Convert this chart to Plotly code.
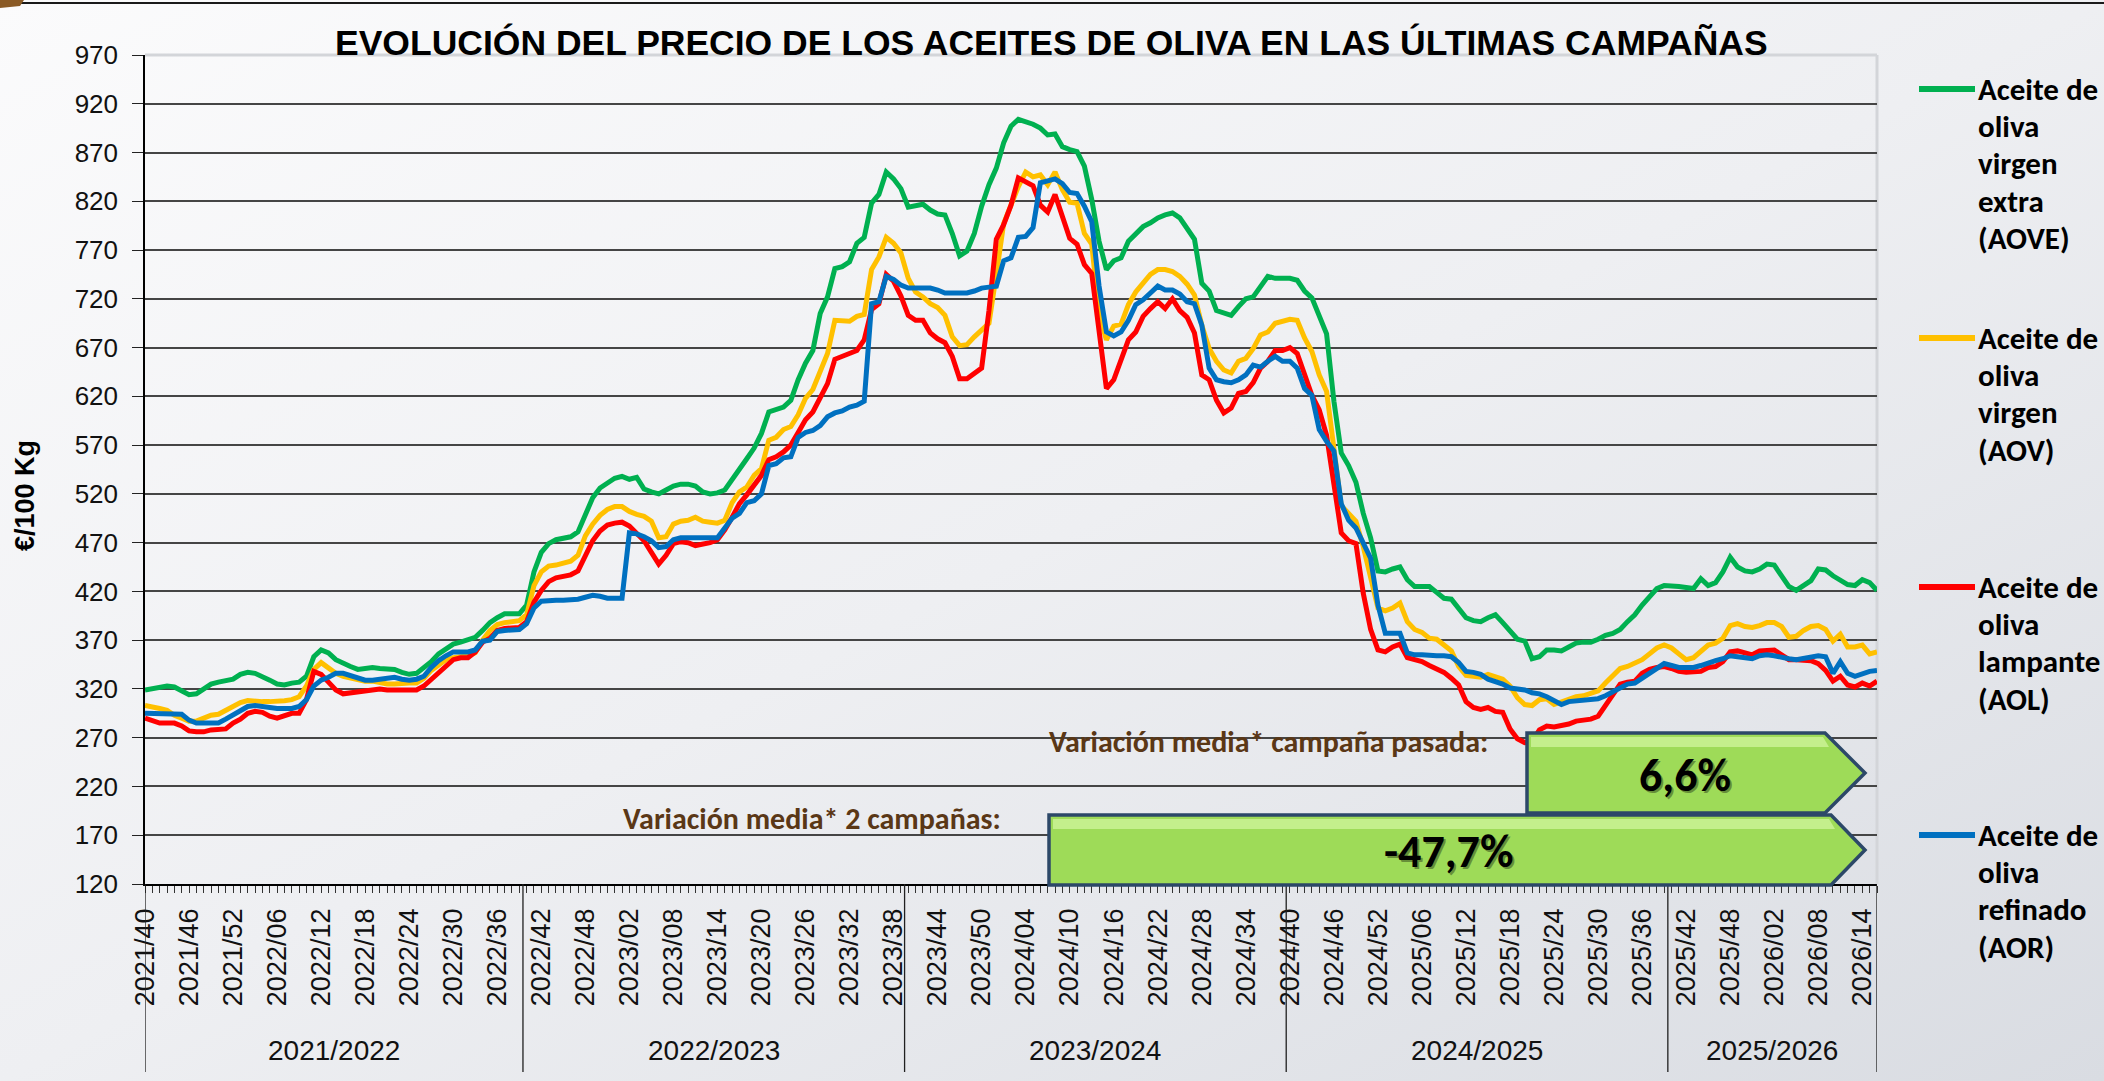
import base64
import plotly.graph_objects as go

# ---------------- data ----------------
TITLE = "EVOLUCIÓN DEL PRECIO DE LOS ACEITES DE OLIVA EN LAS ÚLTIMAS CAMPAÑAS"
Y_TITLE = "€/100 Kg"

CAMPAIGNS = ["2021/2022", "2022/2023", "2023/2024", "2024/2025", "2025/2026"]
CAMPAIGN_WEEKS = [52, 52, 52, 52, 29]

TICK_STEP = 6
TICK_LABELS = [
    "2021/40", "2021/46", "2021/52", "2022/06", "2022/12", "2022/18", "2022/24", "2022/30",
    "2022/36", "2022/42", "2022/48", "2023/02", "2023/08", "2023/14", "2023/20", "2023/26",
    "2023/32", "2023/38", "2023/44", "2023/50", "2024/04", "2024/10", "2024/16", "2024/22",
    "2024/28", "2024/34", "2024/40", "2024/46", "2024/52", "2025/06", "2025/12", "2025/18",
    "2025/24", "2025/30", "2025/36", "2025/42", "2025/48", "2026/02", "2026/08", "2026/14",
]

AOVE = [
    319, 320, 322, 323, 322, 318, 314, 315, 320, 325,
    327, 328, 330, 335, 337, 336, 333, 329, 325, 324,
    326, 327, 333, 353, 360, 357, 350, 346, 343, 340,
    341, 342, 341, 340, 340, 337, 335, 336, 342, 348,
    356, 361, 366, 368, 370, 373, 380, 388, 393, 397,
    397, 397, 406, 440, 460, 469, 473, 475, 476, 481,
    497, 516, 526, 531, 536, 538, 535, 537, 525, 522,
    520, 524, 528, 530, 530, 528, 522, 520, 521, 524,
    534, 546, 556, 567, 582, 604, 607, 609, 616, 637,
    654, 667, 705, 722, 751, 753, 758, 777, 783, 818,
    827, 850, 843, 833, 814, 816, 817, 811, 807, 806,
    787, 764, 769, 787, 815, 837, 854, 880, 897, 904,
    902, 899, 895, 888, 889, 876, 873, 871, 856, 822,
    779, 750, 759, 762, 779, 786, 794, 798, 803, 806,
    808, 803, 793, 781, 736, 728, 708, 705, 703, 712,
    720, 722, 733, 743, 741, 741, 741, 739, 728, 721,
    703, 684, 615, 562, 549, 532, 500, 475, 441, 440,
    443, 445, 432, 425, 425, 425, 419, 413, 412, 403,
    393, 390, 389, 393, 396, 388, 379, 371, 369, 351,
    353, 360, 360, 359, 363, 367, 368, 368, 371, 375,
    377, 381, 389, 396, 406, 415, 423, 426, 426, 425,
    424, 423, 433, 426, 429, 440, 455, 445, 441, 440,
    443, 448, 447, 435, 425, 421, 426, 431, 443, 442,
    436, 431, 427, 426, 432, 429, 421,
]

AOV = [
    303, 302, 300, 298, 293, 290, 287, 287, 290, 293,
    294, 298, 302, 306, 308, 307, 307, 307, 307, 308,
    309, 312, 323, 340, 347, 341, 336, 333, 331, 330,
    328, 328, 326, 325, 325, 326, 326, 326, 331, 339,
    344, 350, 352, 353, 354, 357, 370, 380, 386, 388,
    389, 390, 396, 426, 440, 446, 447, 449, 451, 457,
    477, 489, 498, 504, 507, 507, 502, 499, 497, 492,
    475, 476, 489, 492, 493, 496, 492, 491, 490, 493,
    511, 522, 527, 539, 546, 575, 578, 586, 589, 601,
    618, 627, 644, 664, 698, 697, 697, 702, 704, 750,
    763, 783, 777, 767, 741, 727, 722, 715, 711, 703,
    681, 672, 673, 681, 688, 695, 745, 797, 816, 835,
    850, 845, 847, 837, 850, 832, 819, 818, 787, 776,
    704, 678, 692, 694, 714, 727, 736, 745, 750, 750,
    748, 743, 735, 724, 693, 669, 656, 647, 644, 656,
    659, 669, 683, 686, 695, 697, 699, 698, 680, 666,
    642, 625, 567, 508, 500, 492, 466, 434, 403, 400,
    403, 408, 389, 381, 378, 372, 371, 365, 359, 343,
    334, 333, 332, 335, 332, 330, 323, 311, 304, 303,
    309, 310, 304, 307, 310, 312, 313, 315, 318, 326,
    333, 341, 343, 346, 350, 356, 362, 365, 362, 356,
    350, 352, 358, 365, 367, 372, 385, 387, 384, 383,
    385, 388, 388, 384, 373, 374, 380, 384, 385, 381,
    369, 376, 363, 363, 365, 356, 358,
]

AOL = [
    290, 287, 285, 285, 285, 282, 277, 276, 276, 278,
    279, 279, 285, 289, 295, 297, 296, 292, 290, 293,
    295, 295, 309, 338, 335, 327, 319, 315, 316, 318,
    319, 319, 320, 319, 319, 319, 318, 319, 323, 330,
    337, 344, 350, 352, 352, 358, 368, 372, 380, 382,
    382, 383, 389, 409, 421, 430, 434, 436, 437, 441,
    457, 472, 482, 488, 490, 491, 487, 480, 472, 460,
    448, 457, 469, 471, 470, 467, 468, 470, 473, 483,
    496, 510, 519, 529, 539, 555, 558, 563, 570, 583,
    596, 604, 620, 633, 658, 661, 664, 667, 678, 709,
    715, 745, 738, 723, 703, 698, 698, 685, 679, 675,
    661, 638, 638, 644, 649, 708, 781, 796, 816, 844,
    840, 836, 816, 809, 827, 805, 782, 776, 755, 746,
    683, 628, 637, 656, 678, 686, 702, 710, 717, 710,
    720, 708, 701, 685, 642, 637, 616, 603, 608, 623,
    625, 634, 649, 656, 667, 667, 670, 664, 642, 621,
    606, 580, 530, 480, 472, 469, 418, 381, 360, 358,
    363, 366, 352, 350, 348, 344, 341, 337, 331, 324,
    307, 301, 299, 301, 297, 296, 279, 269, 265, 266,
    278, 282, 281, 282, 284, 287, 288, 289, 292, 303,
    315, 325, 327, 328, 336, 340, 342, 343, 341, 338,
    337, 337, 338, 342, 343, 348, 358, 359, 357, 355,
    359, 360, 360, 355, 350, 350, 350, 349, 346, 339,
    328, 333, 324, 322, 326, 323, 328,
]

AOR = [
    295, 295, 295, 295, 295, 294, 288, 285, 285, 285,
    285, 289, 293, 298, 302, 303, 302, 300, 300, 300,
    300, 302, 309, 323, 329, 332, 336, 336, 334, 331,
    329, 329, 330, 332, 332, 330, 329, 330, 333, 342,
    349, 354, 358, 358, 358, 360, 369, 370, 379, 380,
    380, 381, 387, 403, 410, 411, 411, 411, 411, 412,
    414, 416, 415, 413, 413, 413, 480, 479, 476, 472,
    465, 466, 473, 475, 475, 475, 475, 475, 475, 485,
    495, 500, 511, 513, 520, 549, 551, 557, 558, 578,
    583, 585, 590, 599, 603, 605, 609, 611, 615, 715,
    717, 743, 740, 734, 731, 731, 731, 731, 729, 726,
    726, 726, 726, 728, 731, 732, 733, 759, 762, 783,
    784, 793, 839, 841, 843, 838, 829, 828, 815, 799,
    733, 686, 682, 686, 698, 714, 719, 726, 733, 729,
    729, 725, 717, 715, 693, 649, 637, 635, 634, 637,
    642, 652, 650, 656, 661, 656, 656, 649, 628, 621,
    586, 574, 564, 510, 493, 485, 468, 454, 406, 377,
    377, 377, 357, 355, 355, 354, 354, 354, 353, 347,
    338, 337, 335, 330, 328, 325, 321, 320, 319, 316,
    315, 312, 308, 304, 307, 308, 309, 310, 310, 313,
    317, 322, 325, 326, 331, 337, 342, 346, 344, 342,
    342, 342, 344, 347, 349, 351, 354, 353, 352, 351,
    354, 355, 354, 352, 351, 350, 351, 352, 354, 353,
    336, 348, 336, 333, 336, 338, 339,
]

SERIES_NAMES = [
    "Aceite de oliva virgen extra (AOVE)",
    "Aceite de oliva virgen (AOV)",
    "Aceite de oliva lampante (AOL)",
    "Aceite de oliva refinado (AOR)",
]
LEGEND_LINES = [
    ["Aceite de", "oliva", "virgen", "extra", "(AOVE)"],
    ["Aceite de", "oliva", "virgen", "(AOV)"],
    ["Aceite de", "oliva", "lampante", "(AOL)"],
    ["Aceite de", "oliva", "refinado", "(AOR)"],
]
COLORS = ["#00B050", "#FFC000", "#FF0000", "#0070C0"]

VAR_LABEL_1 = "Variación media* campaña pasada:"
VAR_VALUE_1 = "6,6%"
VAR_LABEL_2 = "Variación media* 2 campañas:"
VAR_VALUE_2 = "-47,7%"

Y_MIN, Y_MAX, Y_STEP = 120, 970, 50

SERIES = [AOVE, AOV, AOL, AOR]
N = sum(CAMPAIGN_WEEKS)
assert all(len(s) == N for s in SERIES), [len(s) for s in SERIES]

# ---------------- geometry ----------------
W, H = 2104, 1081
ML, MR, MT, MB = 145, 227, 55, 197
PW, PH = W - ML - MR, H - MT - MB


def px(x):
    return (x - ML) / PW


def py(y):
    return (H - MB - y) / PH


ARIAL = "Arial, Liberation Sans, sans-serif"
CALI = "Carlito, Calibri, Lato, sans-serif"

x = list(range(N))
fig = go.Figure()
for name, vals, col in zip(SERIES_NAMES, SERIES, COLORS):
    fig.add_trace(go.Scatter(x=x, y=vals, name=name, mode="lines",
                             line=dict(color=col, width=5), hoverinfo="x+y+name"))

tickvals = x
ticktext = ["" for _ in x]
for i, lab in enumerate(TICK_LABELS):
    ticktext[i * TICK_STEP] = lab

# background gradient
svg = (f"<svg xmlns='http://www.w3.org/2000/svg' width='{W}' height='{H}'>"
       "<defs><linearGradient id='g' x1='0' y1='0' x2='1' y2='1'>"
       "<stop offset='0' stop-color='#fbfbfc'/><stop offset='0.5' stop-color='#eeeff2'/>"
       "<stop offset='1' stop-color='#d9dce2'/></linearGradient></defs>"
       f"<rect width='{W}' height='{H}' fill='url(#g)'/></svg>")
src = "data:image/svg+xml;base64," + base64.b64encode(svg.encode()).decode()

shapes = []
annotations = []


def note(text, cx, cy, size, color="#000", family=CALI, xanchor="center", **kw):
    annotations.append(dict(text=text, x=px(cx), y=py(cy), xref="paper", yref="paper",
                            showarrow=False, xanchor=xanchor, yanchor="middle",
                            font=dict(family=family, size=size, color=color), **kw))


# campaign dividers and group labels
bounds = [0]
for n in CAMPAIGN_WEEKS:
    bounds.append(bounds[-1] + n)
div_bottom = py(1072)
for k, b in enumerate(bounds):
    xv = b - 0.5 if 0 < k < len(bounds) - 1 else (0 if k == 0 else N - 1)
    shapes.append(dict(type="line", xref="x", yref="paper", x0=xv, x1=xv, y0=0, y1=div_bottom,
                       line=dict(color="#202020", width=1.3), layer="above"))
for k, name in enumerate(CAMPAIGNS):
    a = 0 if k == 0 else bounds[k] - 0.5
    b = N - 1 if k == len(CAMPAIGNS) - 1 else bounds[k + 1] - 0.5
    annotations.append(dict(text=name, x=(a + b) / 2, xref="x", y=py(1050), yref="paper",
                            showarrow=False, font=dict(family=ARIAL, size=28, color="#111"),
                            xanchor="center", yanchor="middle"))

# plot area light border (top / right)
shapes.append(dict(type="line", xref="paper", yref="paper", x0=0, x1=1, y0=1, y1=1,
                   line=dict(color="#d3d5d9", width=3), layer="above"))
shapes.append(dict(type="line", xref="paper", yref="paper", x0=1, x1=1, y0=0, y1=1,
                   line=dict(color="#d3d5d9", width=3), layer="below"))
# top dark rule and corner ornament
shapes.append(dict(type="line", xref="paper", yref="paper", x0=px(0), x1=px(W), y0=py(3), y1=py(3),
                   line=dict(color="#1a1a1a", width=2)))
shapes.append(dict(type="path", xref="paper", yref="paper",
                   path=f"M {px(0)},{py(0)} L {px(24)},{py(0)} L {px(20)},{py(6)} L {px(0)},{py(8)} Z",
                   fillcolor="#8a5a25", line=dict(width=0)))


def arrow(x0, x1, xt, y0, y1):
    ym = (y0 + y1) / 2
    path = (f"M {px(x0)},{py(y0)} L {px(x1)},{py(y0)} L {px(xt)},{py(ym)} "
            f"L {px(x1)},{py(y1)} L {px(x0)},{py(y1)} Z")
    shapes.append(dict(type="path", xref="paper", yref="paper", path=path,
                       fillcolor="#9edb58", line=dict(color="#2c4868", width=3.5), layer="above"))
    hl = (f"M {px(x0 + 4)},{py(y0 + 4)} L {px(x1 - 2)},{py(y0 + 4)} L {px(x1 + 4)},{py(y0 + 14)} "
          f"L {px(x0 + 4)},{py(y0 + 14)} Z")
    shapes.append(dict(type="path", xref="paper", yref="paper", path=hl,
                       fillcolor="#c4ef8c", line=dict(width=0), layer="above"))


arrow(1527, 1825, 1865, 733, 813)
arrow(1049, 1831, 1865, 815, 885)

for txt, cx, cy in [(VAR_VALUE_1, 1685, 775), (VAR_VALUE_2, 1448, 851)]:
    note(f"<b>{txt}</b>", cx, cy, 46, color="rgba(0,0,0,0.35)", xshift=2, yshift=-2)
    note(f"<b>{txt}</b>", cx, cy, 46)

note(f"<b>{VAR_LABEL_1}</b>", 1268, 741, 30, color="#5a3716")
note(f"<b>{VAR_LABEL_2}</b>", 812, 818, 30, color="#5a3716")

# title and y-axis title
note(f"<b>{TITLE}</b>", 1051, 43, 35.5, family=ARIAL)
note(f"<b>{Y_TITLE}</b>", 25, 496, 27, family=ARIAL, textangle=-90)

# custom legend
LEG_Y = [89, 338, 587, 835]
for lines, col, ly in zip(LEGEND_LINES, COLORS, LEG_Y):
    shapes.append(dict(type="line", xref="paper", yref="paper", x0=px(1919), x1=px(1975),
                       y0=py(ly), y1=py(ly), line=dict(color=col, width=6)))
    for j, t in enumerate(lines):
        note(f"<b>{t}</b>", 1976, ly + j * 37.2, 31, xanchor="left")

fig.update_layout(
    width=W, height=H,
    margin=dict(l=ML, r=MR, t=MT, b=MB, pad=0),
    paper_bgcolor="#eceef1",
    plot_bgcolor="rgba(0,0,0,0)",
    showlegend=False,
    images=[dict(source=src, xref="paper", yref="paper", x=px(0), y=py(0),
                 sizex=W / PW, sizey=H / PH, sizing="stretch", xanchor="left", yanchor="top",
                 layer="below")],
    shapes=shapes,
    annotations=annotations,
    xaxis=dict(range=[0, N - 1], tickmode="array", tickvals=tickvals, ticktext=ticktext,
               tickangle=-90, ticks="outside", ticklen=7, tickwidth=1, tickcolor="#333",
               showgrid=False, showline=True, linecolor="#000", linewidth=1.5, zeroline=False,
               tickfont=dict(family=ARIAL, size=27, color="#111"), ticklabelstandoff=5),
    yaxis=dict(range=[Y_MIN, Y_MAX], tickmode="linear", tick0=Y_MIN, dtick=Y_STEP,
               ticks="outside", ticklen=11, tickwidth=1, tickcolor="#222",
               showgrid=True, gridcolor="#454545", gridwidth=1.6,
               showline=True, linecolor="#000", linewidth=1.5, zeroline=False,
               tickfont=dict(family=ARIAL, size=26, color="#111"), ticklabelstandoff=9),
)

fig.write_html("out.html", include_plotlyjs=True, full_html=True,
               config={"displayModeBar": False},
               post_script="document.body.style.margin='0px';document.body.style.overflow='hidden';")
